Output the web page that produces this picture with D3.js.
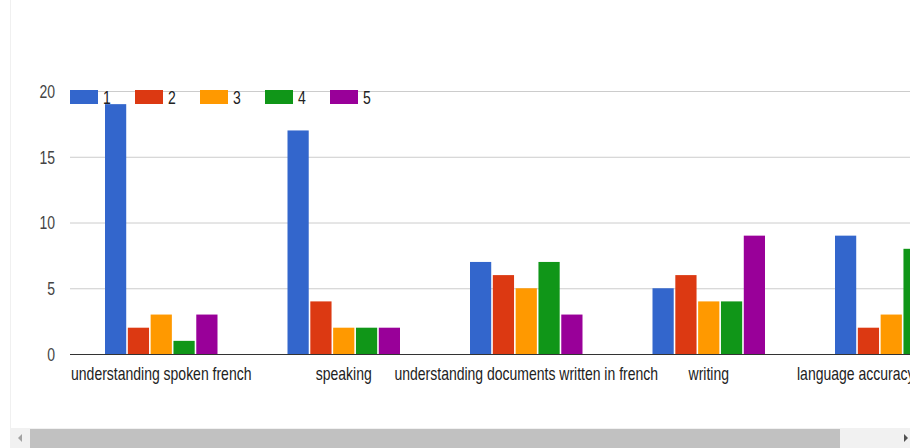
<!DOCTYPE html>
<html>
<head>
<meta charset="utf-8">
<script src="https://cdn.jsdelivr.net/npm/d3@7"></script>
<style>
  html, body { margin: 0; padding: 0; background: #fff; overflow: hidden; }
  svg { display: block; font-family: "Liberation Sans", Arial, sans-serif; }
</style>
</head>
<body>
<svg id="chart" width="910" height="448"></svg>
<script>
const categories = ["understanding spoken french", "speaking", "understanding documents written in french", "writing", "language accuracy"];
const seriesNames = ["1", "2", "3", "4", "5"];
const series1 = [19, 17, 7, 5, 9];
const series2 = [2, 4, 6, 6, 2];
const series3 = [3, 2, 5, 4, 3];
const series4 = [1, 2, 7, 4, 8];
const series5 = [3, 2, 3, 9, 2];
const colors = ["#3366cc", "#dc3912", "#ff9900", "#109618", "#990099"];
const yTicks = [0, 5, 10, 15, 20];

const allSeries = [series1, series2, series3, series4, series5];
const svg = d3.select("#chart");
const W = 910, H = 448;
const SY = 1.25; // vertical stretch of the text in the reference

// faint container border
svg.append("line").attr("x1", 10.5).attr("x2", 10.5).attr("y1", 0).attr("y2", 428)
  .attr("stroke", "#f0f0f0");

const left = 70, step = 182.5;
const x0 = d3.scaleBand().domain(categories)
  .range([left, left + step * categories.length])
  .paddingInner(70 / 182.5).paddingOuter(35 / 182.5);
const x1 = d3.scaleBand().domain(seriesNames).range([0, x0.bandwidth()])
  .paddingInner(0.07).paddingOuter(0);
const y = d3.scaleLinear().domain([0, 20]).range([354, 91]);

// gridlines + y labels
const yAxis = d3.axisLeft(y).tickValues(yTicks).tickSize(-(W - left)).tickPadding(15);
const gy = svg.append("g").attr("transform", `translate(${left},0)`).call(yAxis);
gy.select(".domain").remove();
gy.selectAll(".tick line").attr("stroke", "#cccccc");
gy.selectAll(".tick text").attr("fill", "#444").style("font-size", "14px")
  .attr("x", -15).attr("dy", "0.36em").attr("transform", `scale(1,${SY})`);

// bars
const groups = svg.append("g").selectAll("g").data(categories).join("g")
  .attr("transform", d => `translate(${x0(d)},0)`);
groups.selectAll("rect")
  .data((c, ci) => seriesNames.map((s, si) => ({ s, si, v: allSeries[si][ci] })))
  .join("rect")
  .attr("x", d => x1(d.s))
  .attr("width", x1.bandwidth())
  .attr("y", d => y(d.v))
  .attr("height", d => y(0) - y(d.v))
  .attr("fill", d => colors[d.si]);

// baseline
svg.append("line").attr("x1", left).attr("x2", W).attr("y1", y(0) + 0.5).attr("y2", y(0) + 0.5)
  .attr("stroke", "#333").attr("stroke-width", 1.2);

// x axis labels
const xAxis = d3.axisBottom(x0).tickSize(0).tickPadding(0);
const gx = svg.append("g").attr("transform", `translate(0,${y(0)})`).call(xAxis);
gx.select(".domain").remove();
gx.selectAll(".tick text").attr("fill", "#222").style("font-size", "14px")
  .attr("y", 26 / SY).attr("dy", 0).attr("transform", `scale(1,${SY})`);
// last label is kept inside the visible chart area, as in the reference
gx.selectAll(".tick text").filter(d => d === categories[categories.length - 1])
  .attr("text-anchor", "start")
  .attr("x", 797 - x0(categories[categories.length - 1]) - x0.bandwidth() / 2);

// legend
const lg = svg.append("g").selectAll("g").data(seriesNames).join("g")
  .attr("transform", (d, i) => `translate(${70 + i * 65},90)`);
lg.append("rect").attr("width", 28).attr("height", 14).attr("fill", (d, i) => colors[i]);
lg.append("text").attr("transform", `translate(33,14) scale(1,${SY})`).text(d => d)
  .attr("fill", "#222").style("font-size", "14px");

// scrollbar
svg.append("rect").attr("x", 10).attr("y", 428).attr("width", 900).attr("height", 20).attr("fill", "#f1f1f1");
svg.append("rect").attr("x", 30).attr("y", 429).attr("width", 810).attr("height", 19).attr("fill", "#c1c1c1");
svg.append("path").attr("d", "M22,434 L18,438 L22,442 Z").attr("fill", "#a3a3a3");
svg.append("path").attr("d", "M904,434 L908,438 L904,442 Z").attr("fill", "#505050");
</script>
</body>
</html>
